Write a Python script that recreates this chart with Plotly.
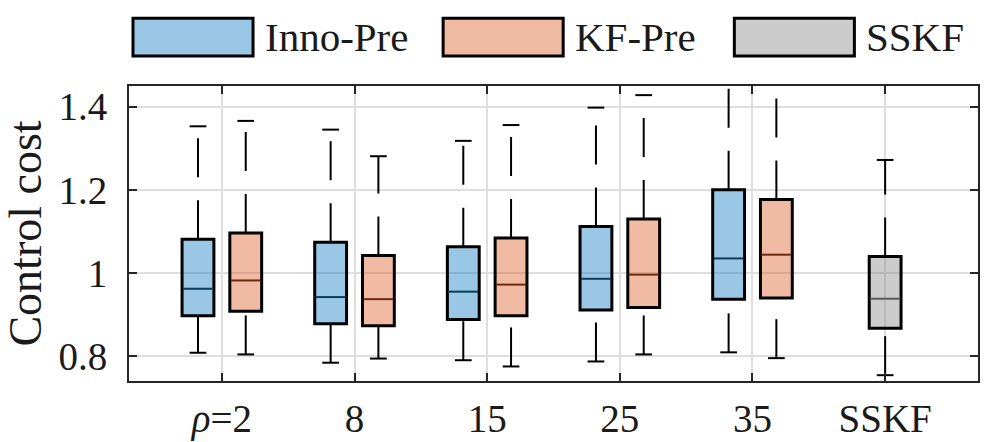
import plotly.graph_objects as go

# ---------------- data ----------------
categories = ["<i>ρ</i>=2", "8", "15", "25", "35", "SSKF"]

inno_lo = [0.808, 0.784, 0.790, 0.787, 0.809]
inno_q1 = [0.897, 0.878, 0.888, 0.911, 0.937]
inno_med = [0.962, 0.942, 0.955, 0.986, 1.035]
inno_q3 = [1.081, 1.074, 1.063, 1.112, 1.200]
inno_hi = [1.353, 1.345, 1.318, 1.398, 1.480]

kf_lo = [0.804, 0.794, 0.775, 0.804, 0.795]
kf_q1 = [0.908, 0.873, 0.897, 0.917, 0.940]
kf_med = [0.982, 0.937, 0.972, 0.996, 1.044]
kf_q3 = [1.096, 1.042, 1.084, 1.130, 1.177]
kf_hi = [1.366, 1.281, 1.356, 1.428, 1.470]

sskf_lo = [0.754]
sskf_q1 = [0.867]
sskf_med = [0.938]
sskf_q3 = [1.0395]
sskf_hi = [1.272]

y_tickvals = [0.8, 1.0, 1.2, 1.4]
y_ticktext = ["0.8", "1", "1.2", "1.4"]

# ---------------- style ----------------
FONT = "Liberation Serif"
TXT = "#1a1a1a"
AX = "#262626"
BOX_W = 0.24
CAP_W = 0.126
MED_W = 0.225
OFF = 0.18
DASH = "39px,23px"

series = [
    dict(name="Inno-Pre", lo=inno_lo, q1=inno_q1, med=inno_med, q3=inno_q3, hi=inno_hi,
         pos=[i + 1 - OFF for i in range(len(inno_q1))],
         fill="rgba(0,114,189,0.4)", medc="#0b3c5d"),
    dict(name="KF-Pre", lo=kf_lo, q1=kf_q1, med=kf_med, q3=kf_q3, hi=kf_hi,
         pos=[i + 1 + OFF for i in range(len(kf_q1))],
         fill="rgba(217,83,25,0.4)", medc="#6b2a10"),
    dict(name="SSKF", lo=sskf_lo, q1=sskf_q1, med=sskf_med, q3=sskf_q3, hi=sskf_hi,
         pos=[len(categories)],
         fill="rgba(128,128,128,0.4)", medc="#5a5a5a"),
]

fig = go.Figure()


def segs(xs, y0s, y1s, half=None):
    X, Y = [], []
    for x, a, b in zip(xs, y0s, y1s):
        if half is None:
            X += [x, x, None]
            Y += [a, b, None]
        else:
            X += [x - half, x + half, None]
            Y += [a, a, None]
    return X, Y


for s in series:
    # box bodies
    fig.add_trace(go.Bar(
        x=s["pos"], base=s["q1"], y=[b - a for a, b in zip(s["q1"], s["q3"])],
        width=BOX_W, marker=dict(color=s["fill"], line=dict(color="black", width=3)),
        name=s["name"], showlegend=False, hoverinfo="skip"))

for s in series:
    # medians
    X, Y = segs(s["pos"], s["med"], s["med"], half=MED_W / 2)
    fig.add_trace(go.Scatter(x=X, y=Y, mode="lines", line=dict(color=s["medc"], width=2),
                             showlegend=False, hoverinfo="skip"))
    # lower whisker (drawn upward from fence to box)
    X, Y = segs(s["pos"], s["lo"], s["q1"])
    fig.add_trace(go.Scatter(x=X, y=Y, mode="lines", line=dict(color="black", width=2, dash=DASH),
                             showlegend=False, hoverinfo="skip"))
    # upper whisker (drawn upward from box to fence)
    X, Y = segs(s["pos"], s["q3"], s["hi"])
    fig.add_trace(go.Scatter(x=X, y=Y, mode="lines", line=dict(color="black", width=2, dash=DASH),
                             showlegend=False, hoverinfo="skip"))
    # caps
    X, Y = segs(s["pos"], s["lo"], s["lo"], half=CAP_W / 2)
    X2, Y2 = segs(s["pos"], s["hi"], s["hi"], half=CAP_W / 2)
    fig.add_trace(go.Scatter(x=X + X2, y=Y + Y2, mode="lines", line=dict(color="black", width=2),
                             showlegend=False, hoverinfo="skip"))

# ---------------- legend (wide swatches like the reference) ----------------
leg_items = [("Inno-Pre", series[0]["fill"], 0.0047),
             ("KF-Pre", series[1]["fill"], 0.3700),
             ("SSKF", series[2]["fill"], 0.7130)]
SW_W = 0.1414
for name, col, x0 in leg_items:
    fig.add_shape(type="rect", xref="paper", yref="paper", x0=x0, x1=x0 + SW_W,
                  y0=1.1018, y1=1.2297, fillcolor=col, line=dict(color="black", width=3),
                  layer="above")
    fig.add_annotation(xref="paper", yref="paper", x=x0 + SW_W + 0.0115, y=1.166,
                       xanchor="left", yanchor="middle", text=name, showarrow=False,
                       font=dict(family=FONT, size=41, color=TXT))

fig.update_layout(
    width=997, height=442,
    margin=dict(l=129, r=19, t=86, b=61, pad=0),
    paper_bgcolor="white", plot_bgcolor="white",
    barmode="overlay",
    font=dict(family=FONT, size=39, color=TXT),
    showlegend=False,
    xaxis=dict(range=[0.3, 6.7], tickmode="array",
               tickvals=list(range(1, len(categories) + 1)), ticktext=categories,
               showgrid=True, gridcolor="#dedede", gridwidth=1.5,
               showline=True, linecolor=AX, linewidth=2, mirror="ticks",
               ticks="inside", ticklen=8, tickwidth=1.5, tickcolor=AX,
               zeroline=False, ticklabelstandoff=2, automargin=False,
               tickfont=dict(family=FONT, size=39, color=TXT)),
    yaxis=dict(range=[0.74, 1.45], tickmode="array", tickvals=y_tickvals, ticktext=y_ticktext,
               showgrid=True, gridcolor="#dedede", gridwidth=1.5,
               showline=True, linecolor=AX, linewidth=2, mirror="ticks",
               ticks="inside", ticklen=8, tickwidth=1.5, tickcolor=AX,
               zeroline=False, ticklabelstandoff=12, automargin=False,
               tickfont=dict(family=FONT, size=39, color=TXT),
               title=dict(text="Control cost", standoff=19,
                          font=dict(family=FONT, size=46, color=TXT))),
)

fig.write_html("out.html", config={"displayModeBar": False},
               post_script="document.body.style.margin='0';")
